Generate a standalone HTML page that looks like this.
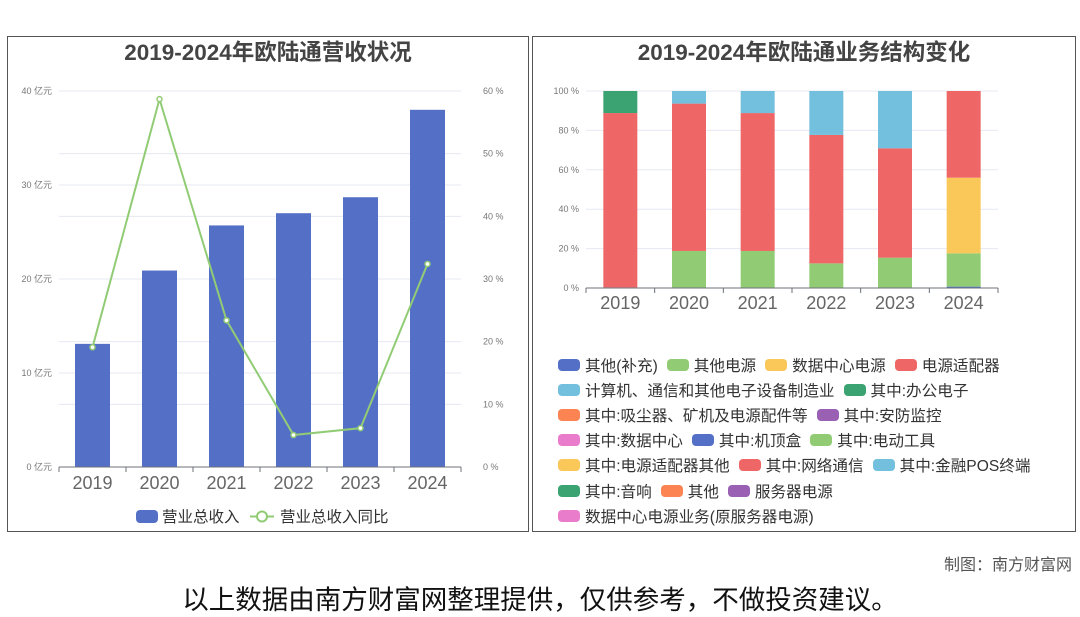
<!DOCTYPE html>
<html><head><meta charset="utf-8"><style>
body{margin:0;width:1080px;height:614px;background:#fff;font-family:"Liberation Sans","Noto Sans CJK SC",sans-serif;position:relative;overflow:hidden}
.panel{position:absolute;border:1px solid #555;background:#fff}
svg text{font-family:"Liberation Sans","Noto Sans CJK SC",sans-serif}
.leg{position:absolute;left:558px;font-size:15.6px;color:#333;white-space:nowrap}
.row{height:25.2px;display:flex;align-items:center}
.it{display:inline-flex;align-items:center;margin-right:9px}
.sw{display:inline-block;width:22px;height:12px;border-radius:4px;margin-right:5px}
</style></head><body>
<div class="panel" style="left:7px;top:36px;width:520px;height:494px"></div>
<div class="panel" style="left:532px;top:36px;width:542px;height:494px"></div>
<svg id="c1" width="1080" height="614" style="position:absolute;left:0;top:0">
<text x="268" y="60" text-anchor="middle" font-size="22.5" font-weight="bold" fill="#444">2019-2024年欧陆通营收状况</text>
<text x="804" y="60" text-anchor="middle" font-size="22.5" font-weight="bold" fill="#444">2019-2024年欧陆通业务结构变化</text>
</svg>
<div class="leg" style="top:352px">
<div class="row"><span class="it"><span class="sw" style="background:#5470c6"></span>其他(补充)</span><span class="it"><span class="sw" style="background:#91cc75"></span>其他电源</span><span class="it"><span class="sw" style="background:#fac858"></span>数据中心电源</span><span class="it"><span class="sw" style="background:#ee6666"></span>电源适配器</span></div>
<div class="row"><span class="it"><span class="sw" style="background:#73c0de"></span>计算机、通信和其他电子设备制造业</span><span class="it"><span class="sw" style="background:#3ba272"></span>其中:办公电子</span></div>
<div class="row"><span class="it"><span class="sw" style="background:#fc8452"></span>其中:吸尘器、矿机及电源配件等</span><span class="it"><span class="sw" style="background:#9a60b4"></span>其中:安防监控</span></div>
<div class="row"><span class="it"><span class="sw" style="background:#ea7ccc"></span>其中:数据中心</span><span class="it"><span class="sw" style="background:#5470c6"></span>其中:机顶盒</span><span class="it"><span class="sw" style="background:#91cc75"></span>其中:电动工具</span></div>
<div class="row"><span class="it"><span class="sw" style="background:#fac858"></span>其中:电源适配器其他</span><span class="it"><span class="sw" style="background:#ee6666"></span>其中:网络通信</span><span class="it"><span class="sw" style="background:#73c0de"></span>其中:金融POS终端</span></div>
<div class="row"><span class="it"><span class="sw" style="background:#3ba272"></span>其中:音响</span><span class="it"><span class="sw" style="background:#fc8452"></span>其他</span><span class="it"><span class="sw" style="background:#9a60b4"></span>服务器电源</span></div>
<div class="row"><span class="it"><span class="sw" style="background:#ea7ccc"></span>数据中心电源业务(原服务器电源)</span></div>
</div>
<div style="position:absolute;right:8px;top:551px;font-size:16px;color:#555">制图：南方财富网</div>
<div style="position:absolute;left:0;width:1080px;text-align:center;top:578px;font-size:26.5px;color:#111">以上数据由南方财富网整理提供，仅供参考，不做投资建议。</div>
<script>
const years=["2019","2020","2021","2022","2023","2024"];
const revenue=[13.1,20.9,25.7,27.0,28.7,38.0];
const growth=[19.1,58.7,23.4,5.1,6.2,32.4];
const revTicks=[0,10,20,30,40];
const pctTicks=[0,10,20,30,40,50,60];
const shareTicks=[0,20,40,60,80,100];
const segOther=[0.3,0,0,0,0,0.7];
const segOtherPower=[0,18.8,18.8,12.5,15.4,16.9];
const segDataCenter=[0,0,0,0,0,38.4];
const segAdapter=[88.5,74.8,70,65.2,55.5,44];
const segComputer=[0,6.4,11.2,22.3,29.1,0];
const segOffice=[11.2,0,0,0,0,0];
const NS="http://www.w3.org/2000/svg";
const svg=document.getElementById('c1');
function mk(t,a,txt){const e=document.createElementNS(NS,t);for(const k in a)e.setAttribute(k,a[k]);if(txt!==undefined)e.textContent=txt;svg.appendChild(e);return e;}
const L0=59,L1=461,Y0=467,Y1=91;
const bw=(L1-L0)/years.length;
const xL=i=>L0+bw*(i+0.5);
const yRev=v=>Y0-(v/40)*(Y0-Y1);
const yPct=v=>Y0-(v/60)*(Y0-Y1);
pctTicks.forEach(t=>{const y=yPct(t);let g=mk('line',{x1:L0,x2:L1,y1:y,y2:y,stroke:'#e6e8f2'});
let tx=mk('text',{x:483,y:y+3,'font-size':9,fill:'#777'},t+' %');});
revTicks.forEach(t=>{const y=yRev(t);mk('line',{x1:L0,x2:L1,y1:y,y2:y,stroke:'#e6e8f2'});
let tx=mk('text',{x:52,y:y+3,'font-size':9,fill:'#777','text-anchor':'end'},t+' 亿元');});
revenue.forEach((v,i)=>{const r=mk('rect',{x:xL(i)-17.5,y:yRev(v),width:35,height:Y0-yRev(v),fill:'#5470c6'});});
mk('line',{x1:L0,x2:L1,y1:Y0,y2:Y0,stroke:'#6e7079'});
years.forEach((y,i)=>{mk('line',{x1:L0+bw*i,x2:L0+bw*i,y1:Y0,y2:Y0+5,stroke:'#6e7079'});
let t=mk('text',{x:xL(i),y:489,'font-size':18,fill:'#666','text-anchor':'middle'},y);});
mk('line',{x1:L1,x2:L1,y1:Y0,y2:Y0+5,stroke:'#6e7079'});
const pl=mk('polyline',{points:growth.map((v,i)=>xL(i)+','+yPct(v)).join(' '),fill:'none',stroke:'#91cc75','stroke-width':2});

growth.forEach((v,i)=>{const c=mk('circle',{cx:xL(i),cy:yPct(v),r:2.5,fill:'#fff',stroke:'#91cc75','stroke-width':1.5});});
let lg=mk('rect',{x:136,y:510,width:22,height:13,rx:4,fill:'#5470c6'});
mk('text',{x:162,y:522,'font-size':15.5,fill:'#333'},'营业总收入');
mk('line',{x1:250,x2:274,y1:516.5,y2:516.5,stroke:'#91cc75','stroke-width':2});
let lc=mk('circle',{cx:262,cy:516.5,r:5,fill:'#fff',stroke:'#91cc75','stroke-width':2});
mk('text',{x:280,y:522,'font-size':15.5,fill:'#333'},'营业总收入同比');
const R0=586,R1=998,S0=288,S1=91;
const rw=(R1-R0)/years.length;
const xR=i=>R0+rw*(i+0.5);
const yS=v=>S0-(v/100)*(S0-S1);
shareTicks.forEach(t=>{const y=yS(t);mk('line',{x1:R0,x2:R1,y1:y,y2:y,stroke:'#e6e8f2'});
let tx=mk('text',{x:579,y:y+3,'font-size':9,fill:'#777','text-anchor':'end'},t+' %');});
const series=[[segOther,'#5470c6'],[segOtherPower,'#91cc75'],[segDataCenter,'#fac858'],[segAdapter,'#ee6666'],[segComputer,'#73c0de'],[segOffice,'#3ba272']];
years.forEach((y,i)=>{let acc=0;series.forEach(([arr,col],k)=>{const v=arr[i];if(v>0){const r=mk('rect',{x:xR(i)-17,y:yS(acc+v),width:34,height:yS(acc)-yS(acc+v),fill:col});}acc+=v;});});
mk('line',{x1:R0,x2:R1,y1:S0,y2:S0,stroke:'#6e7079'});
years.forEach((y,i)=>{mk('line',{x1:R0+rw*i,x2:R0+rw*i,y1:S0,y2:S0+5,stroke:'#6e7079'});
let t=mk('text',{x:xR(i),y:309,'font-size':18,fill:'#666','text-anchor':'middle'},y);});
mk('line',{x1:R1,x2:R1,y1:S0,y2:S0+5,stroke:'#6e7079'});
</script>
</body></html>
